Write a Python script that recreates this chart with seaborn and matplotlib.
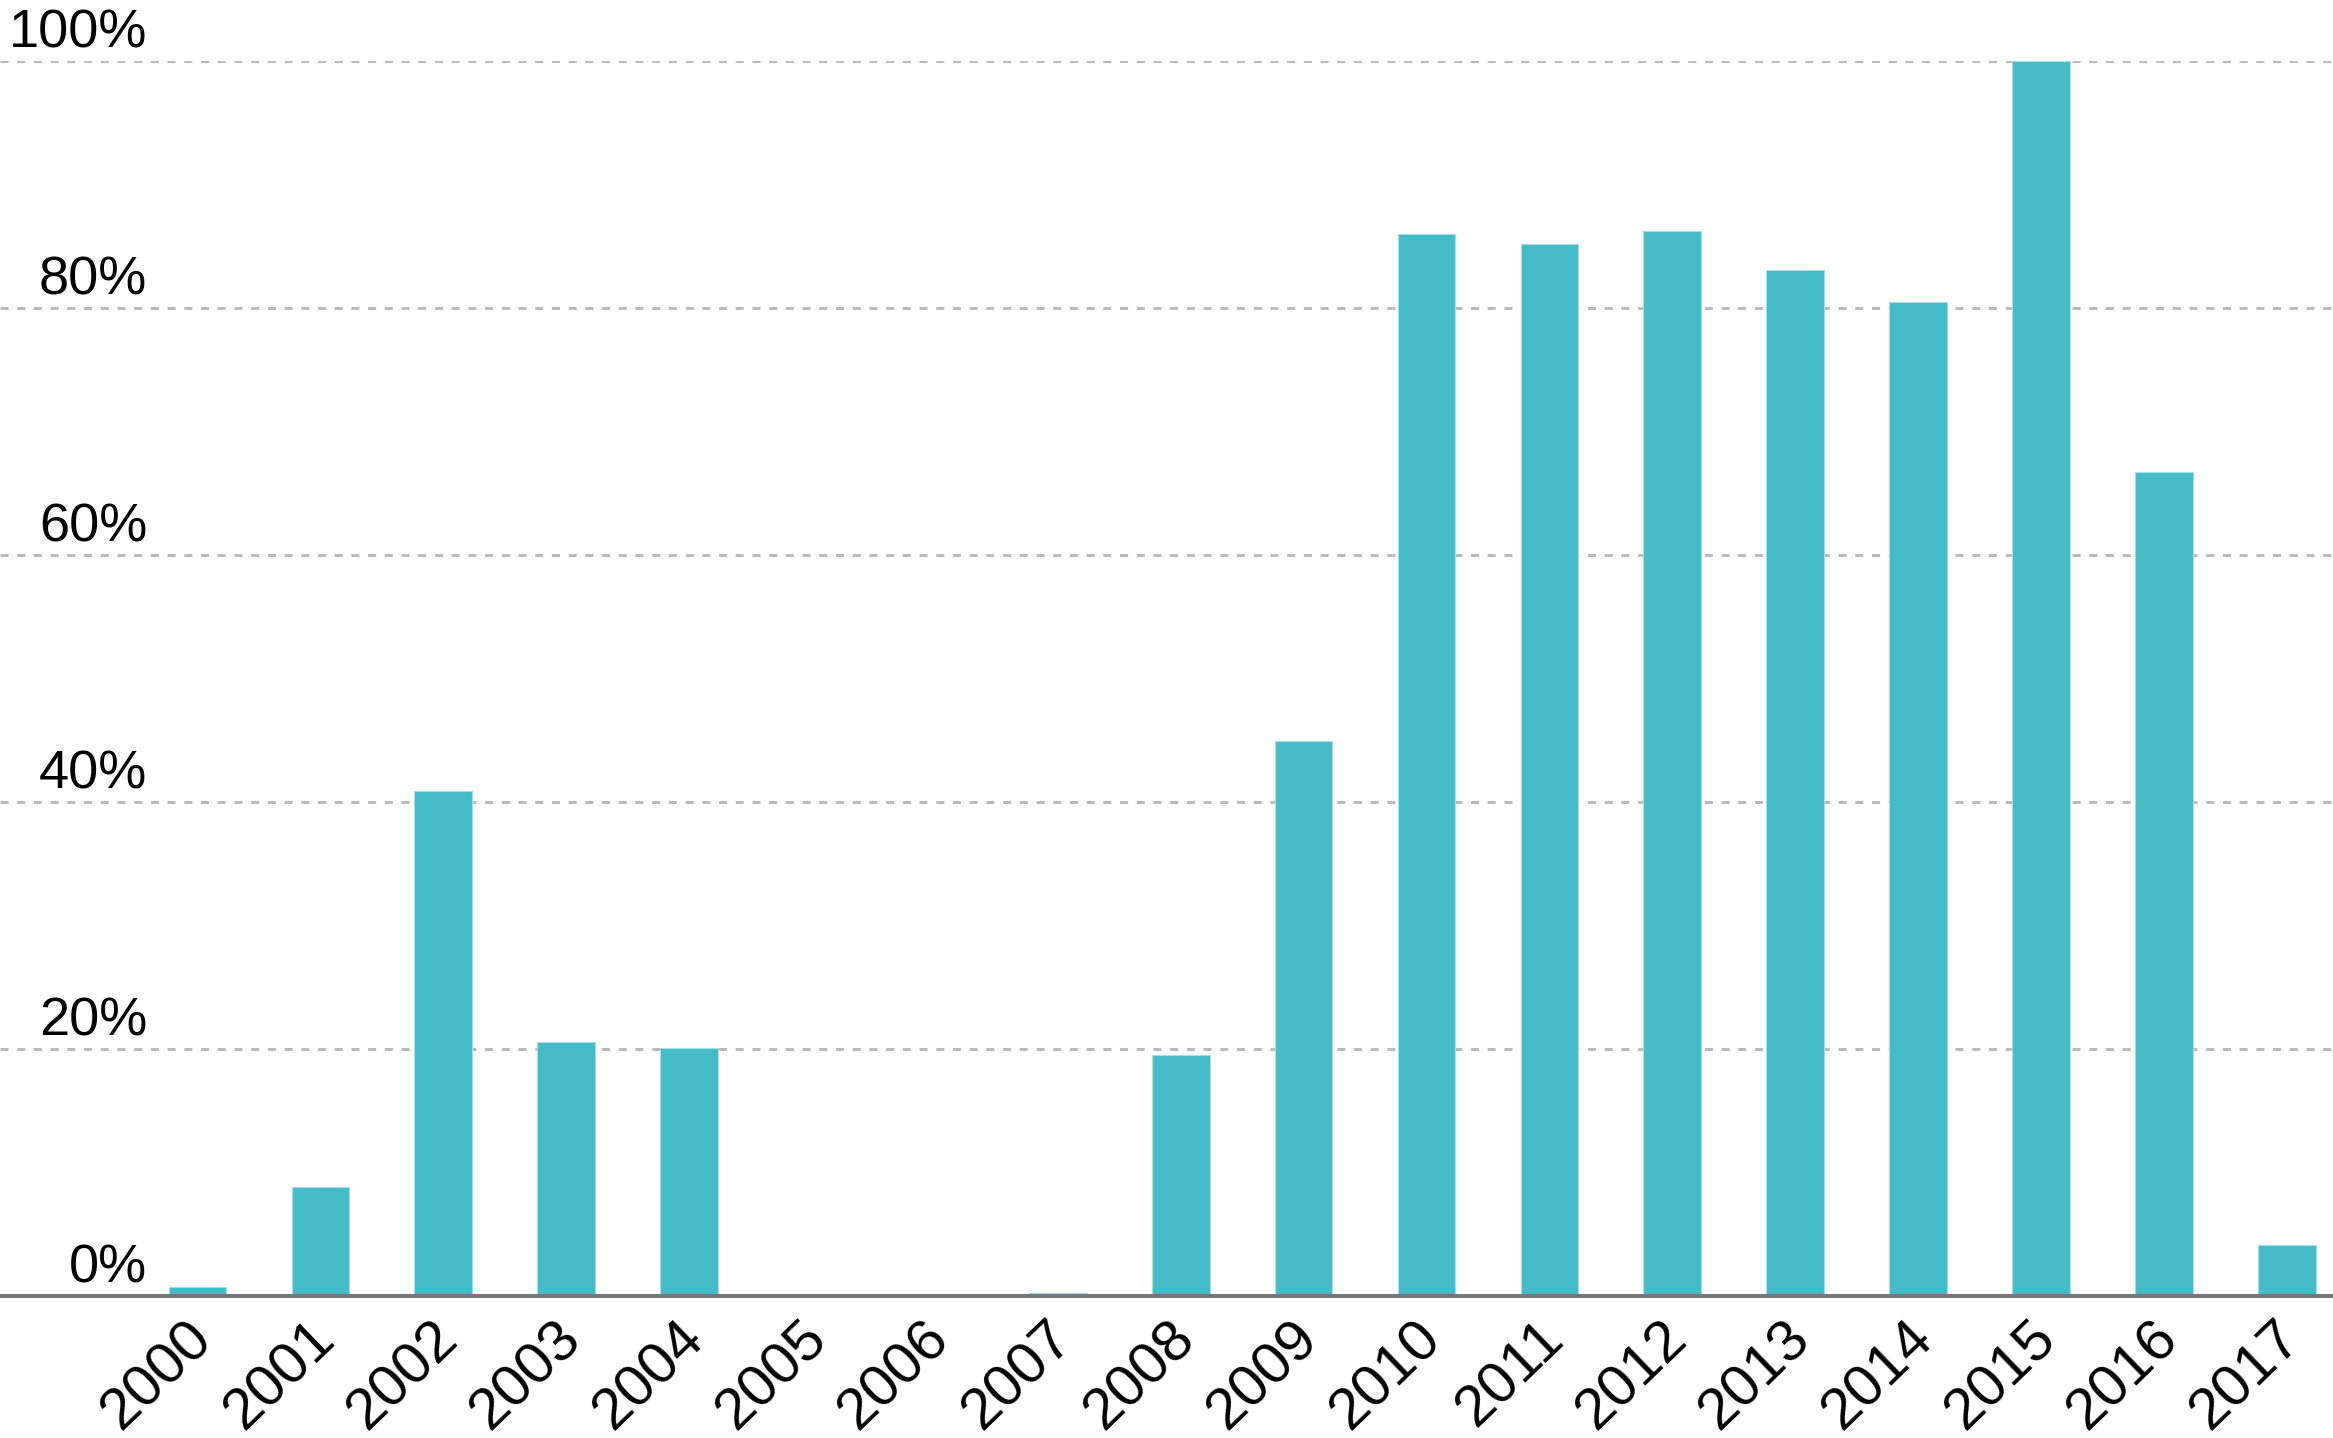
import numpy as np
import pandas as pd
import seaborn as sns
import matplotlib.pyplot as plt

# ---- data ----
years = [str(y) for y in range(2000, 2018)]
values = [0.7, 8.8, 40.9, 20.6, 20.1, 0.0, 0.0, 0.25, 19.5, 44.9,
          86.0, 85.2, 86.2, 83.1, 80.5, 100.0, 66.7, 4.1]
yticks = [0, 20, 40, 60, 80, 100]
ytick_labels = ["0%", "20%", "40%", "60%", "80%", "100%"]

sns.set_theme(style="white")
plt.rcParams['font.family'] = ['Liberation Sans', 'DejaVu Sans']

W, H, DPI = 2333, 1438, 100
fig = plt.figure(figsize=(W / DPI, H / DPI), dpi=DPI)
fig.patch.set_facecolor("white")
ax = fig.add_axes([0, (H - 1296) / H, 1, (1296 - 61) / H])

df = pd.DataFrame({"year": years, "value": values})
sns.barplot(data=df, x="year", y="value", color="#43BCC7", saturation=1,
            width=0.47, edgecolor="#A6DFE4", linewidth=0.8, ax=ax, zorder=2)

ax.set_xlim(-1.607, 17.376)
ax.set_ylim(0, 100)
ax.set_xlabel("")
ax.set_ylabel("")

# grid
ax.set_yticks(yticks)
ax.set_yticklabels([])
ax.tick_params(axis="y", length=0)
ax.set_axisbelow(True)
ax.yaxis.grid(True, color="#BBBBBB", linewidth=2.16, linestyle=(0, (2.67, 2.9)))
ax.xaxis.grid(False)

# spines
for s in ["left", "right", "top"]:
    ax.spines[s].set_visible(False)
ax.spines["bottom"].set_color("#777777")
ax.spines["bottom"].set_linewidth(2.9)
ax.spines["bottom"].set_zorder(3)

# y labels above gridlines, inside plot
for t, lab in zip(yticks, ytick_labels):
    ax.annotate(lab, xy=(147 / W, t), xycoords=("axes fraction", "data"),
                xytext=(0, 10), textcoords="offset points",
                ha="right", va="baseline", fontsize=39, color="black",
                annotation_clip=False)

# x labels (rotated, drawn at each category position)
ax.set_xticks(range(len(years)))
ax.set_xticklabels([])
ax.tick_params(axis="x", length=0)
for i, yr in enumerate(years):
    ax.annotate(yr, xy=(i, 0), xycoords="data",
                xytext=(-9, -11), textcoords="offset points",
                rotation=44, rotation_mode="anchor",
                ha="right", va="top", fontsize=42, color="black",
                annotation_clip=False)

fig.savefig("out.png", dpi=DPI, facecolor="white")
